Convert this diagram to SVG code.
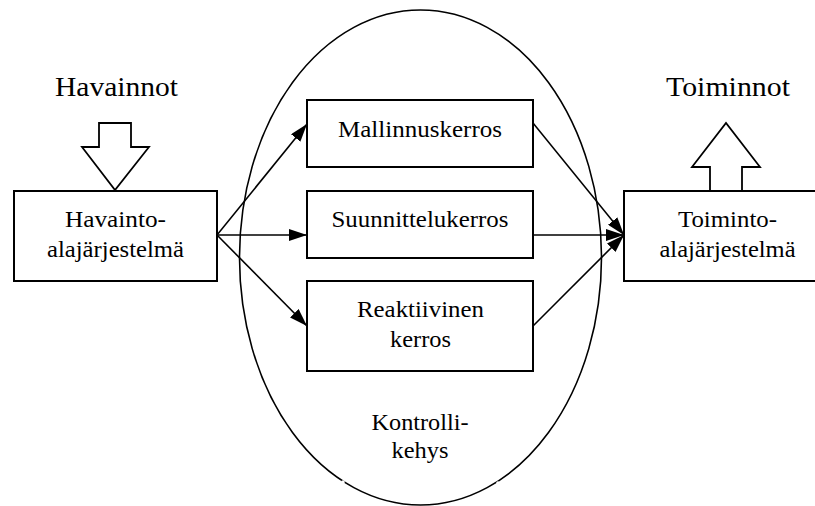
<svg xmlns="http://www.w3.org/2000/svg" width="815" height="506" viewBox="0 0 815 506">
  <style>
    .box { fill: #ffffff; stroke: #000000; stroke-width: 2; }
    .frame { fill: none; stroke: #000000; stroke-width: 1.6; }
    .block { fill: #ffffff; stroke: #000000; stroke-width: 1.8; stroke-linejoin: miter; }
    .edge { fill: none; stroke: #000000; stroke-width: 1.6; marker-end: url(#head); }
    text { font-family: "Liberation Serif", "Liberation Sans", sans-serif; fill: #000000; text-anchor: middle; }
    .label { font-size: 23px; }
    .title { font-size: 27px; }
  </style>
  <defs>
    <marker id="head" markerUnits="userSpaceOnUse" markerWidth="18" markerHeight="12" refX="18" refY="6" orient="auto">
      <path d="M0,0 L18,6 L0,12 Z" fill="#000000"/>
    </marker>
  </defs>

  <rect width="815" height="506" fill="#ffffff"/>

  <!-- control frame -->
  <g id="kontrollikehys">
    <ellipse class="frame" cx="420.5" cy="257.5" rx="181" ry="247.5"/>
    <circle cx="343" cy="482" r="1.8" fill="#ffffff"/>
    <circle cx="498" cy="483" r="1.8" fill="#ffffff"/>
    <text class="label" x="420" y="430" textLength="97" lengthAdjust="spacingAndGlyphs">Kontrolli-</text>
    <text class="label" x="420" y="458" textLength="57" lengthAdjust="spacingAndGlyphs">kehys</text>
  </g>

  <!-- perception input -->
  <g id="havainnot">
    <text class="title" x="116.5" y="96" textLength="123" lengthAdjust="spacingAndGlyphs">Havainnot</text>
    <polygon class="block" points="99,123 131,123 131,147 149,147 115,190 82,147 99,147"/>
  </g>

  <!-- action output -->
  <g id="toiminnot">
    <text class="title" x="728" y="96" textLength="124" lengthAdjust="spacingAndGlyphs">Toiminnot</text>
    <polygon class="block" points="710,191 710,167 692,167 726,123 760,167 742,167 742,191"/>
  </g>

  <g id="havaintoalajarjestelma">
    <rect class="box" x="14" y="191" width="203" height="90"/>
    <text class="label" x="115.5" y="227" textLength="101" lengthAdjust="spacingAndGlyphs">Havainto-</text>
    <text class="label" x="115.5" y="257" textLength="137" lengthAdjust="spacingAndGlyphs">alajärjestelmä</text>
  </g>

  <g id="toimintoalajarjestelma">
    <rect class="box" x="624" y="191" width="203" height="90"/>
    <text class="label" x="727.5" y="227" textLength="99" lengthAdjust="spacingAndGlyphs">Toiminto-</text>
    <text class="label" x="727.5" y="257" textLength="136" lengthAdjust="spacingAndGlyphs">alajärjestelmä</text>
  </g>

  <g id="mallinnuskerros">
    <rect class="box" x="307" y="100" width="226" height="67"/>
    <text class="label" x="420" y="137" textLength="164" lengthAdjust="spacingAndGlyphs">Mallinnuskerros</text>
  </g>

  <g id="suunnittelukerros">
    <rect class="box" x="307" y="191" width="226" height="67"/>
    <text class="label" x="420" y="227" textLength="177" lengthAdjust="spacingAndGlyphs">Suunnittelukerros</text>
  </g>

  <g id="reaktiivinen">
    <rect class="box" x="307" y="281" width="226" height="90"/>
    <text class="label" x="420.5" y="317" textLength="127" lengthAdjust="spacingAndGlyphs">Reaktiivinen</text>
    <text class="label" x="420.5" y="347" textLength="61" lengthAdjust="spacingAndGlyphs">kerros</text>
  </g>

  <!-- connectors -->
  <g id="connectors">
    <line class="edge" x1="217" y1="235" x2="307" y2="124"/>
    <line class="edge" x1="217" y1="235" x2="307" y2="235"/>
    <line class="edge" x1="217" y1="235" x2="307" y2="326"/>
    <line class="edge" x1="533" y1="123" x2="624" y2="235"/>
    <line class="edge" x1="533" y1="235" x2="624" y2="235"/>
    <line class="edge" x1="533" y1="326" x2="624" y2="235"/>
  </g>
</svg>
